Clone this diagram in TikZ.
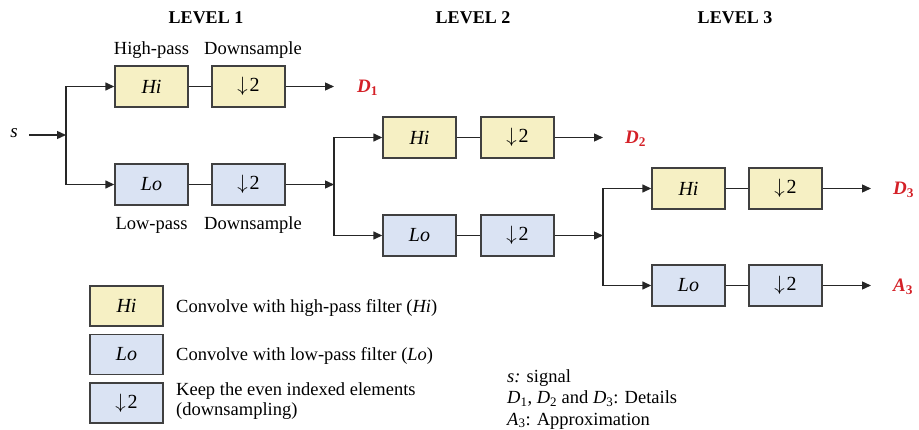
\documentclass[tikz,border=0pt]{standalone}
\usepackage{fontspec}
\setmainfont{Liberation Serif}
\usetikzlibrary{arrows.meta}
\definecolor{hifill}{HTML}{F6F0C4}
\definecolor{lofill}{HTML}{DAE3F3}
\definecolor{edge}{HTML}{404040}
\definecolor{outred}{HTML}{D42027}
\newcommand{\dtwo}{$\downarrow$\kern2pt2}
\begin{document}
\begin{tikzpicture}[x=1pt,y=-1pt,
  blk/.style={draw=edge,line width=1.4pt,minimum width=73pt,minimum height=41pt,inner sep=0pt,font=\fontsize{20}{24}\selectfont},
  hiblk/.style={blk,fill=hifill},
  loblk/.style={blk,fill=lofill},
  conn/.style={draw=black!85,line width=1.4pt},
  arr/.style={conn,-{Triangle[length=9pt,width=8pt]}},
  txt/.style={font=\fontsize{18.5}{22}\selectfont,inner sep=0pt},
  hdr/.style={font=\fontsize{18}{22}\selectfont\bfseries,inner sep=0pt,anchor=base},
  outl/.style={font=\fontsize{19}{22}\selectfont\bfseries,text=outred,inner sep=0pt,anchor=west}]
\useasboundingbox (0,0) rectangle (919,430);
% headers
\node[hdr] (lv1) at (206,24) {LEVEL 1};
\node[hdr] (lv2) at (473,24) {LEVEL 2};
\node[hdr] (lv3) at (735,24) {LEVEL 3};
\node[txt,anchor=base] (hp) at (151.5,55) {High-pass};
\node[txt,anchor=base] (dsu) at (253,55) {Downsample};
\node[txt,anchor=base] (lp) at (151.5,230) {Low-pass};
\node[txt,anchor=base] (dsl) at (253,230) {Downsample};
% level 1
\node[hiblk] (h1) at (151.5,86.5) {\itshape Hi};
\node[hiblk] (hd1) at (248.5,86.5) {\dtwo};
\node[loblk] (l1) at (151.5,184.5) {\itshape Lo};
\node[loblk] (ld1) at (248.5,184.5) {\dtwo};
% level 2
\node[hiblk] (h2) at (419.5,137.5) {\itshape Hi};
\node[hiblk] (hd2) at (517.5,137.5) {\dtwo};
\node[loblk] (l2) at (419.5,235.5) {\itshape Lo};
\node[loblk] (ld2) at (517.5,235.5) {\dtwo};
% level 3
\node[hiblk] (h3) at (688.5,188.5) {\itshape Hi};
\node[hiblk] (hd3) at (785.5,188.5) {\dtwo};
\node[loblk] (l3) at (688.5,285.5) {\itshape Lo};
\node[loblk] (ld3) at (785.5,285.5) {\dtwo};
% signal and junctions
\node[txt,font=\fontsize{19}{22}\selectfont\itshape] (s) at (14,133) {s};
\coordinate (j1) at (66,135);
\coordinate (j2) at (334,184.5);
\coordinate (j3) at (603,235.5);
\coordinate (e1) at (334,86.5);
\coordinate (e2) at (603,137.5);
\coordinate (e3) at (871,188.5);
\coordinate (e4) at (871,285.5);
% outputs
\node[outl] (D1) at (357,88) {\textit{D}\textsubscript{1}};
\node[outl] (D2) at (625,139) {\textit{D}\textsubscript{2}};
\node[outl] (D3) at (893,190) {\textit{D}\textsubscript{3}};
\node[outl] (A3) at (893,287) {\textit{A}\textsubscript{3}};
% connectors
\draw[arr] (29,135) -- (j1);
\draw[arr] (j1) |- (h1);
\draw[arr] (j1) |- (l1);
\draw[conn] (h1) -- (hd1);
\draw[conn] (l1) -- (ld1);
\draw[arr] (hd1) -- (e1);
\draw[arr] (ld1) -- (j2);
\draw[arr] (j2) |- (h2);
\draw[arr] (j2) |- (l2);
\draw[conn] (h2) -- (hd2);
\draw[conn] (l2) -- (ld2);
\draw[arr] (hd2) -- (e2);
\draw[arr] (ld2) -- (j3);
\draw[arr] (j3) |- (h3);
\draw[arr] (j3) |- (l3);
\draw[conn] (h3) -- (hd3);
\draw[conn] (l3) -- (ld3);
\draw[arr] (hd3) -- (e3);
\draw[arr] (ld3) -- (e4);
% legend
\node[hiblk,minimum height=40pt] (lgh) at (126.5,306) {\itshape Hi};
\node[loblk,minimum height=40pt] (lgl) at (126.5,354.5) {\itshape Lo};
\node[loblk,minimum height=40pt] (lgd) at (126.5,403) {\dtwo};
\node[txt,anchor=base west] (tgh) at (176,313) {Convolve with high-pass filter (\textit{Hi})};
\node[txt,anchor=base west] (tgl) at (176,361) {Convolve with low-pass filter (\textit{Lo})};
\node[txt,anchor=base west] (tgd1) at (176,396) {Keep the even indexed elements};
\node[txt,anchor=base west] (tgd2) at (176,416) {(downsampling)};
% notes
\node[txt,anchor=base west] (n1) at (507,383) {\textit{s:} signal};
\node[txt,anchor=base west] (n2) at (507,404) {\textit{D}\textsubscript{1}, \textit{D}\textsubscript{2} and \textit{D}\textsubscript{3}: Details};
\node[txt,anchor=base west] (n3) at (507,425) {\textit{A}\textsubscript{3}: Approximation};
\end{tikzpicture}
\end{document}
